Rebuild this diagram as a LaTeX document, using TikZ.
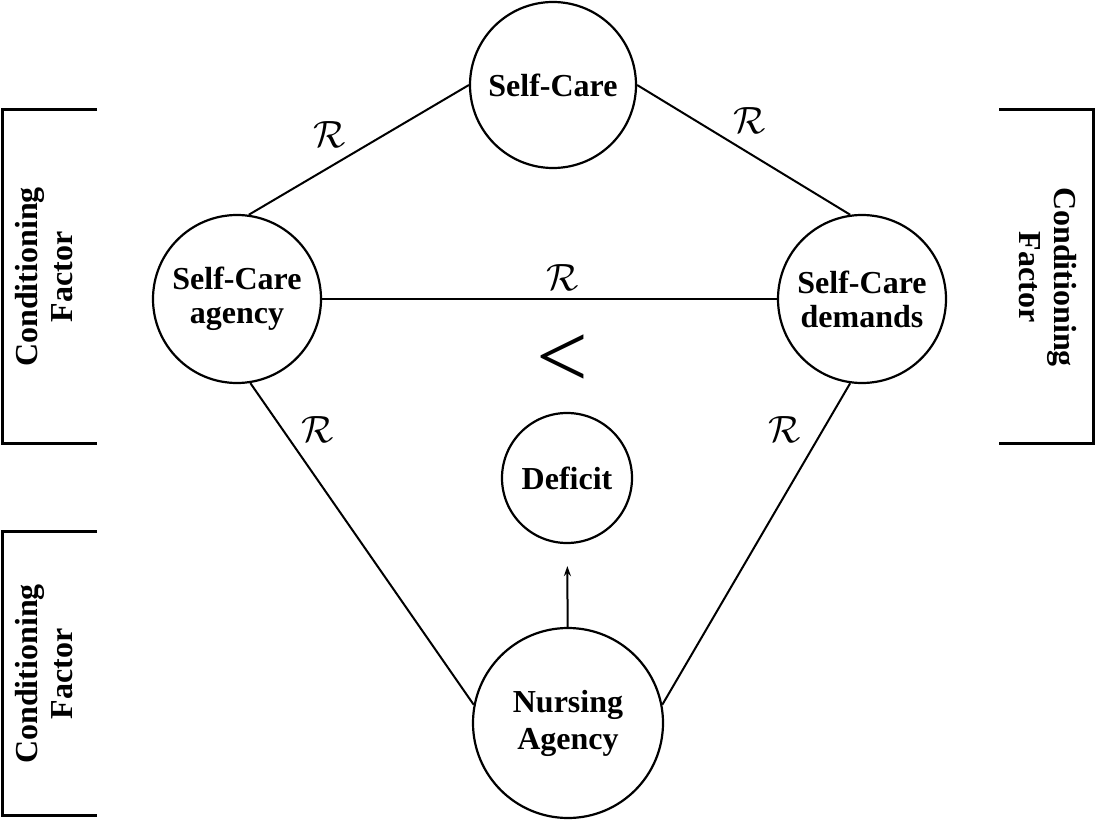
\documentclass[tikz,border=0pt]{standalone}
\usepackage{fix-cm}
\usepackage{fontspec}
\setmainfont{Liberation Serif}
\usepackage{tikz}
\usetikzlibrary{arrows.meta,calc}

\tikzset{
  concept/.style={circle,draw,line width=2.2pt,inner sep=0pt,align=center,
    font=\fontsize{32}{34}\selectfont\bfseries},
  rel/.style={line width=2pt},
  rlabel/.style={font=\fontsize{38}{38}\selectfont},
  factor/.style={align=center,font=\fontsize{32}{35}\selectfont\bfseries},
  bracket/.style={line width=3pt}
}

\begin{document}
\begin{tikzpicture}[x=1pt,y=-1pt]
\useasboundingbox (0,0) rectangle (1095,829);

    % concepts
    \node[concept,minimum size=166pt] (selfcare) at (553,85) {Self-Care};
    \node[concept,minimum size=168pt] (agency) at (237,299) {Self-Care\\agency};
    \node[concept,minimum size=168pt] (demands) at (862,299) {Self-Care\\demands};
    \node[concept,minimum size=130pt] (deficit) at (567,478) {Deficit};
    \node[concept,minimum size=190pt,font=\fontsize{32}{37}\selectfont\bfseries] (nursing) at (568,723) {Nursing\\Agency};

    % relations
    \draw[rel] (selfcare.west) -- (agency.82);
    \draw[rel] (selfcare.east) -- (demands.98);
    \draw[rel] (agency.east) -- (demands.west);
    \draw[rel] (agency.-81) -- (nursing.169);
    \draw[rel] (demands.-98) -- (nursing.11);
    \draw[rel,-{Stealth[length=10pt,width=7pt]},shorten >=22pt] (nursing) -- (deficit);

    \node[rlabel] (r1) at (330,135) {$\mathcal{R}$};
    \node[rlabel] (r2) at (750,121) {$\mathcal{R}$};
    \node[rlabel] (r3) at (563,278) {$\mathcal{R}$};
    \node[rlabel] (r4) at (318,430) {$\mathcal{R}$};
    \node[rlabel] (r5) at (785,430) {$\mathcal{R}$};

    \node[font=\fontsize{92}{92}\selectfont] (less) at (562,361) {<};

    % conditioning factors
    \draw[bracket] (97,110) -- (2,110) -- (2,443) -- (97,443);
    \draw[bracket] (999,110) -- (1093,110) -- (1093,443) -- (999,443);
    \draw[bracket] (97,531) -- (2,531) -- (2,815) -- (97,815);
    \node[factor,rotate=90] (cfleft) at (44,277) {Conditioning\\Factor};
    \node[factor,rotate=-90] (cfright) at (1048,277) {Conditioning\\Factor};
    \node[factor,rotate=90] (cfbottom) at (44,674) {Conditioning\\Factor};

\end{tikzpicture}
\end{document}
